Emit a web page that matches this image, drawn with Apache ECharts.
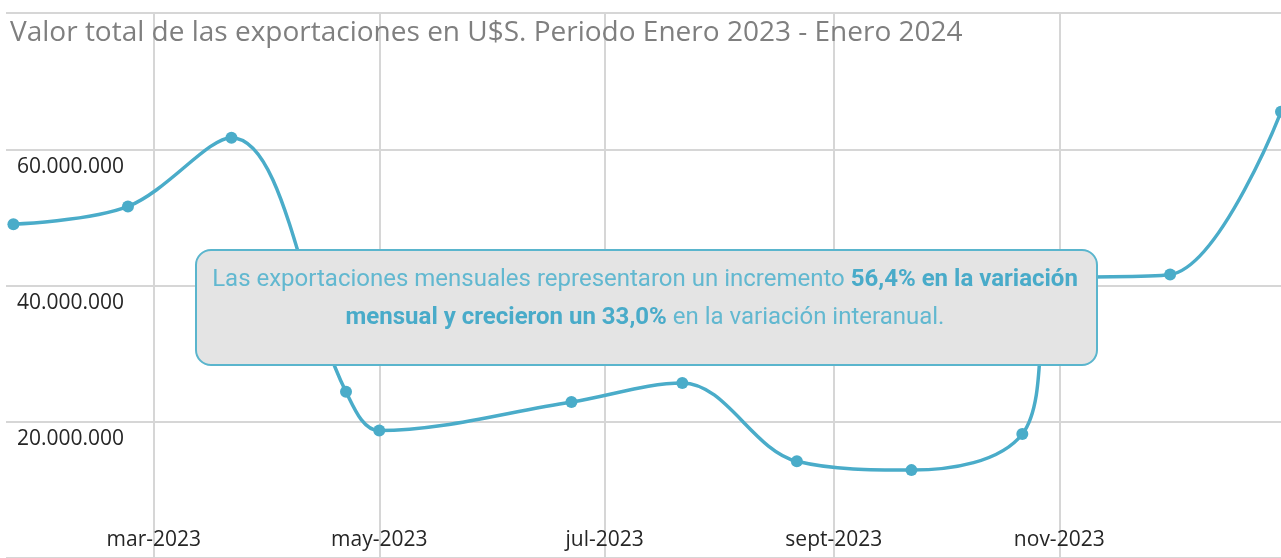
<!DOCTYPE html>
<html>
<head>
<meta charset="utf-8">
<script src="https://cdn.jsdelivr.net/npm/echarts@6/dist/echarts.min.js"></script>
<style>
  html, body { margin: 0; padding: 0; background: #fff; }
  #chart { width: 1281px; height: 558px; }
</style>
</head>
<body>
<div id="chart"></div>
<script>
// fechas de cada registro (eje proporcional a días)
const fechas = [
  '2023-01-22', '2023-02-22', '2023-03-22', '2023-04-22', '2023-05-01',
  '2023-06-22', '2023-07-22', '2023-08-22', '2023-09-22', '2023-10-22',
  '2023-11-01', '2023-12-01', '2023-12-31'
]
// valor total exportado en U$S
const valores = [
  49000000, 51600000, 61700000, 24400000, 18700000,
  22900000, 25700000, 14200000, 12900000, 18200000,
  41000000, 41600000, 65500000
]
const tickFechas = ['2023-03-01', '2023-05-01', '2023-07-01', '2023-09-01', '2023-11-01']
const tickLabels = ['mar-2023', 'may-2023', 'jul-2023', 'sept-2023', 'nov-2023']

const TEAL = '#4aacc9'
const GRID = '#d6d6d6'

const ts = (d) => Date.parse(d + 'T00:00:00Z')
const tickTs = tickFechas.map(ts)

function fmtMiles(v) {
  return String(v).replace(/\B(?=(\d{3})+(?!\d))/g, '.')
}

const chart = echarts.init(document.getElementById('chart'), null, { renderer: 'canvas' })

chart.setOption({
  animation: false,
  backgroundColor: '#fff',
  title: {
    text: 'Valor total de las exportaciones en U$S. Periodo Enero 2023 - Enero 2024',
    left: 10,
    top: 19,
    padding: 0,
    textStyle: {
      fontFamily: 'Open Sans',
      fontSize: 28,
      fontWeight: 'normal',
      color: '#7f7f7f',
    },
  },
  grid: { left: 6, right: 0, top: 13, bottom: -5.5, containLabel: false },
  xAxis: {
    type: 'value',
    min: ts('2023-01-20'),
    max: ts('2023-12-31'),
    axisLine: { show: false },
    axisTick: { show: false, customValues: tickTs },
    splitLine: { show: true, lineStyle: { color: GRID, width: 2 } },
    axisLabel: {
      customValues: tickTs,
      inside: true,
      margin: 7,
      fontFamily: 'Open Sans',
      fontSize: 21,
      color: '#262626',
      formatter: (v) => tickLabels[tickTs.indexOf(v)] || '',
    },
  },
  yAxis: {
    type: 'value',
    min: 0,
    max: 80000000,
    interval: 20000000,
    axisLine: { show: false },
    axisTick: { show: false },
    splitLine: { lineStyle: { color: GRID, width: 2 } },
    axisLabel: {
      inside: true,
      margin: 11,
      showMinLabel: false,
      showMaxLabel: false,
      verticalAlign: 'top',
      padding: [7, 0, 0, 0],
      fontFamily: 'Open Sans',
      fontSize: 21,
      color: '#262626',
      formatter: (v) => fmtMiles(v),
    },
  },
  series: [
    {
      name: 'Exportaciones',
      type: 'line',
      data: fechas.map((f, i) => [ts(f), valores[i]]),
      smooth: 0.35,
      symbol: 'circle',
      symbolSize: 12,
      itemStyle: { color: TEAL },
      lineStyle: { color: TEAL, width: 3.5 },
      z: 3,
    },
  ],
  graphic: [
    {
      type: 'rect',
      left: 195,
      top: 249,
      z: 100,
      shape: { width: 901, height: 115, r: 15 },
      style: { fill: '#e4e4e4', stroke: '#5ab5cd', lineWidth: 2 },
    },
    {
      type: 'text',
      x: 645,
      y: 299,
      z: 101,
      style: {
        text: '{n|Las exportaciones mensuales representaron un incremento }{b|56,4% en la variación}\n{b|mensual y crecieron un 33,0%}{n| en la variación interanual.}',
        align: 'center',
        verticalAlign: 'middle',
        rich: {
          n: { fontFamily: 'Roboto', fontSize: 24, fontWeight: 'normal', fill: '#62b8d0', lineHeight: 38 },
          b: { fontFamily: 'Roboto', fontSize: 24, fontWeight: 'bold', fill: '#49abc9', lineHeight: 38 },
        },
      },
    },
  ],
})

window.addEventListener('resize', () => chart.resize())
</script>
</body>
</html>
